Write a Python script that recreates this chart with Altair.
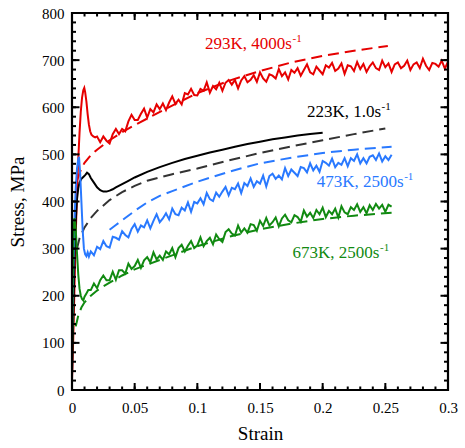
import altair as alt
import numpy as np
import pandas as pd

FONT = "Liberation Serif, DejaVu Serif, Times New Roman, serif"
RED = "#e60000"
BLACK = "#000000"
DKGRAY = "#333333"
BLUE = "#2979ff"
GREEN = "#118a11"

# ---------------- data ----------------
step_strain_red = [round(0.02 + 0.0025 * i, 4) for i in range(113)]
step_strain_hot = [round(0.015 + 0.0025 * i, 4) for i in range(97)]

red_early_strain = [0.0, 0.001, 0.002, 0.003, 0.004, 0.005, 0.006, 0.007, 0.008, 0.009,
                    0.0098, 0.0105, 0.0115, 0.0125, 0.0135, 0.0145, 0.0155, 0.017, 0.0185]
red_early_stress = [20, 110, 220, 330, 420, 490, 545, 590, 620, 636,
                    641, 632, 612, 585, 563, 549, 542, 538, 536]
red_tail_stress = [
    538, 526, 538, 529, 523, 543, 554, 543, 554, 549,
    570, 584, 573, 573, 586, 597, 578, 596, 589, 606,
    596, 608, 594, 610, 623, 607, 616, 606, 630, 627,
    639, 626, 625, 639, 635, 653, 631, 645, 638, 652,
    635, 652, 658, 648, 658, 640, 657, 666, 653, 658,
    668, 654, 674, 661, 654, 670, 667, 661, 681, 666,
    674, 659, 679, 673, 683, 667, 679, 691, 674, 670,
    686, 678, 670, 689, 684, 694, 677, 682, 693, 671,
    689, 687, 677, 696, 681, 692, 675, 687, 695, 683,
    679, 699, 685, 693, 675, 691, 695, 683, 688, 699,
    679, 691, 695, 683, 703, 688, 679, 694, 692, 686,
    699, 682, 697]

red_model_strain = [0.004, 0.0075, 0.01, 0.015, 0.02, 0.025, 0.03, 0.04, 0.05, 0.075,
                    0.1, 0.125, 0.15, 0.175, 0.2, 0.225, 0.252]
red_model_stress = [445, 470, 482, 498, 510, 520, 530, 547, 562, 597,
                    630, 656, 677, 695, 709, 720, 730]

black_strain = [0, 0.001, 0.002, 0.003, 0.004, 0.005, 0.006, 0.0075, 0.009, 0.0105,
                0.012, 0.0135, 0.015, 0.0175, 0.02, 0.0225, 0.025, 0.0275, 0.03, 0.0325,
                0.035, 0.04, 0.045, 0.05, 0.06, 0.07, 0.08, 0.09, 0.1, 0.11,
                0.12, 0.13, 0.14, 0.15, 0.16, 0.17, 0.18, 0.19, 0.2]
black_stress = [30, 150, 280, 360, 405, 428, 440, 448, 452, 456,
                461, 458, 450, 440, 430, 424, 421, 421, 423, 426,
                430, 437, 444, 451, 463, 473, 482, 490, 497, 504,
                510, 516, 522, 527, 532, 536, 540, 543, 546]

black_model_strain = [0.004, 0.006, 0.01, 0.015, 0.02, 0.03, 0.04, 0.05, 0.06, 0.08,
                      0.1, 0.125, 0.15, 0.175, 0.2, 0.225, 0.25]
black_model_stress = [300, 322, 345, 365, 380, 403, 420, 433, 444, 458,
                      470, 487, 503, 517, 530, 543, 555]

blue_early_strain = [0, 0.001, 0.002, 0.003, 0.004, 0.005, 0.0056, 0.0065, 0.0075, 0.0085,
                     0.0095, 0.0105, 0.0115, 0.0125, 0.0135]
blue_early_stress = [120, 250, 360, 430, 470, 490, 495, 460, 400, 340,
                     300, 288, 284, 292, 283]
blue_tail_stress = [
    294, 286, 304, 299, 316, 305, 302, 325, 323, 319,
    337, 329, 324, 342, 352, 336, 349, 345, 360, 343,
    359, 373, 356, 364, 375, 362, 385, 373, 371, 387,
    381, 398, 378, 399, 396, 407, 394, 418, 405, 401,
    419, 410, 421, 431, 413, 429, 426, 438, 418, 439,
    433, 449, 431, 443, 438, 455, 432, 454, 459, 448,
    455, 447, 471, 454, 468, 461, 454, 473, 471, 462,
    481, 466, 476, 463, 486, 482, 476, 491, 473, 482,
    478, 492, 475, 492, 486, 500, 481, 492, 481, 495,
    498, 488, 502, 485, 496, 488, 499]

blue_model_strain = [0.03, 0.035, 0.04, 0.05, 0.06, 0.07, 0.08, 0.1, 0.125, 0.15,
                     0.175, 0.2, 0.225, 0.255]
blue_model_stress = [340, 350, 360, 380, 398, 412, 422, 442, 463, 481,
                     493, 503, 510, 516]

green_early_strain = [0, 0.0005, 0.001, 0.0015, 0.002, 0.003, 0.004, 0.005, 0.006, 0.007,
                      0.008, 0.009, 0.01, 0.0115, 0.013]
green_early_stress = [60, 200, 300, 350, 365, 340, 290, 245, 215, 200,
                      193, 190, 198, 205, 212]
green_tail_stress = [
    212, 226, 216, 233, 243, 233, 233, 251, 234, 254,
    254, 247, 268, 257, 263, 276, 259, 275, 282, 271,
    292, 277, 285, 276, 294, 288, 301, 282, 301, 308,
    294, 306, 316, 301, 307, 324, 305, 316, 323, 309,
    330, 320, 314, 335, 341, 332, 328, 349, 334, 343,
    334, 352, 350, 338, 359, 348, 365, 349, 356, 366,
    347, 364, 372, 360, 356, 371, 367, 357, 381, 368,
    376, 365, 382, 373, 387, 367, 380, 373, 385, 366,
    390, 377, 373, 388, 382, 394, 378, 388, 375, 392,
    382, 395, 385, 393, 378, 393, 389]

green_model_strain = [0.003, 0.005, 0.0075, 0.01, 0.015, 0.02, 0.025, 0.03, 0.04, 0.05,
                      0.075, 0.1, 0.125, 0.15, 0.175, 0.2, 0.225, 0.255]
green_model_stress = [135, 158, 175, 186, 200, 211, 220, 228, 243, 256,
                      281, 305, 325, 341, 353, 363, 370, 376]

label_text = ["293K, 4000s", "223K, 1.0s", "473K, 2500s", "673K, 2500s"]
label_strain = [0.1061, 0.1875, 0.1952, 0.176]
label_stress = [724, 580, 431, 280]
label_color = [RED, BLACK, BLUE, GREEN]
label_width = [87, 74, 87, 87]

x_major = [0, 0.05, 0.1, 0.15, 0.2, 0.25, 0.3]
x_minor = [round(0.01 * i, 2) for i in range(31)]
y_major = [0, 100, 200, 300, 400, 500, 600, 700, 800]
y_minor = [20 * i for i in range(41)]

W, H = 376, 377

# ---------------- chart ----------------
xs = alt.Scale(domain=[0, 0.3], nice=False, zero=False)
ys = alt.Scale(domain=[0, 800], nice=False, zero=False)

X = alt.X("strain:Q", scale=xs, axis=alt.Axis(
    values=x_major, format="~g", ticks=False, domain=False, grid=False,
    labelFont=FONT, labelFontSize=15, labelColor="black", labelPadding=10,
    labelFlush=False, labelOverlap=False,
    title="Strain", titleFont=FONT, titleFontSize=19, titleFontWeight="normal",
    titleColor="black", titlePadding=9))
Y = alt.Y("stress:Q", scale=ys, axis=alt.Axis(
    values=y_major, ticks=False, domain=False, grid=False,
    labelFont=FONT, labelFontSize=15, labelColor="black", labelPadding=8,
    labelFlush=False, labelOverlap=False,
    title="Stress, MPa", titleFont=FONT, titleFontSize=19, titleFontWeight="normal",
    titleColor="black", titlePadding=14))


def line(strain, stress, color, dashed=False):
    df = pd.DataFrame({"strain": strain, "stress": stress})
    kw = dict(color=color, strokeWidth=2, clip=True)
    if dashed:
        kw["strokeDash"] = [11, 6]
    return alt.Chart(df).mark_line(**kw).encode(x=X, y=Y, order="strain:Q")


layers = [
    line(red_model_strain, red_model_stress, RED, True),
    line(black_model_strain, black_model_stress, DKGRAY, True),
    line(blue_model_strain, blue_model_stress, BLUE, True),
    line(green_model_strain, green_model_stress, GREEN, True),
    line(red_early_strain + step_strain_red, red_early_stress + red_tail_stress, RED),
    line(black_strain, black_stress, BLACK),
    line(blue_early_strain + step_strain_hot, blue_early_stress + blue_tail_stress, BLUE),
    line(green_early_strain + step_strain_hot, green_early_stress + green_tail_stress, GREEN),
]

lab = pd.DataFrame({"t": label_text, "strain": label_strain, "stress": label_stress,
                    "c": label_color, "w": label_width})
layers.append(alt.Chart(lab).mark_text(font=FONT, fontSize=17, align="left",
                                       baseline="alphabetic").encode(
    x=alt.X("strain:Q", scale=xs), y=alt.Y("stress:Q", scale=ys),
    text="t:N", color=alt.Color("c:N", scale=None)))
for t, s, p, c, w in zip(label_text, label_strain, label_stress, label_color, label_width):
    d = pd.DataFrame({"strain": [s], "stress": [p]})
    layers.append(alt.Chart(d).mark_text(font=FONT, fontSize=11, align="left",
                                         baseline="alphabetic", dx=w + 0.5, dy=-7,
                                         color=c, text="-1").encode(
        x=alt.X("strain:Q", scale=xs), y=alt.Y("stress:Q", scale=ys)))


def xticks(vals, length):
    d = pd.DataFrame({"v": vals})
    bot = alt.Chart(d).mark_rule(color="black", strokeWidth=2).encode(
        x=alt.X("v:Q", scale=xs), y=alt.value(H), y2=alt.value(H - length))
    top = alt.Chart(d).mark_rule(color="black", strokeWidth=2).encode(
        x=alt.X("v:Q", scale=xs), y=alt.value(0), y2=alt.value(length))
    return [bot, top]


def yticks(vals, length):
    d = pd.DataFrame({"v": vals})
    left = alt.Chart(d).mark_rule(color="black", strokeWidth=2).encode(
        y=alt.Y("v:Q", scale=ys), x=alt.value(0), x2=alt.value(length))
    right = alt.Chart(d).mark_rule(color="black", strokeWidth=2).encode(
        y=alt.Y("v:Q", scale=ys), x=alt.value(W), x2=alt.value(W - length))
    return [left, right]


layers += xticks(x_minor, 3.5) + xticks(x_major, 7) + yticks(y_minor, 4) + yticks(y_major, 7.5)

frame = alt.Chart(pd.DataFrame({"k": [0]})).mark_rect(
    filled=False, stroke="black", strokeWidth=2.2, fillOpacity=0).encode(
    x=alt.value(0), x2=alt.value(W), y=alt.value(0), y2=alt.value(H))
layers.append(frame)

chart = alt.layer(*layers).properties(
    width=W, height=H,
    padding={"left": 72, "top": 13, "right": 17, "bottom": 58},
    autosize=alt.AutoSizeParams(type="none"),
    background="white",
).configure_view(strokeWidth=0)

chart.save("out.html", embed_options={"renderer": "svg", "actions": False})
